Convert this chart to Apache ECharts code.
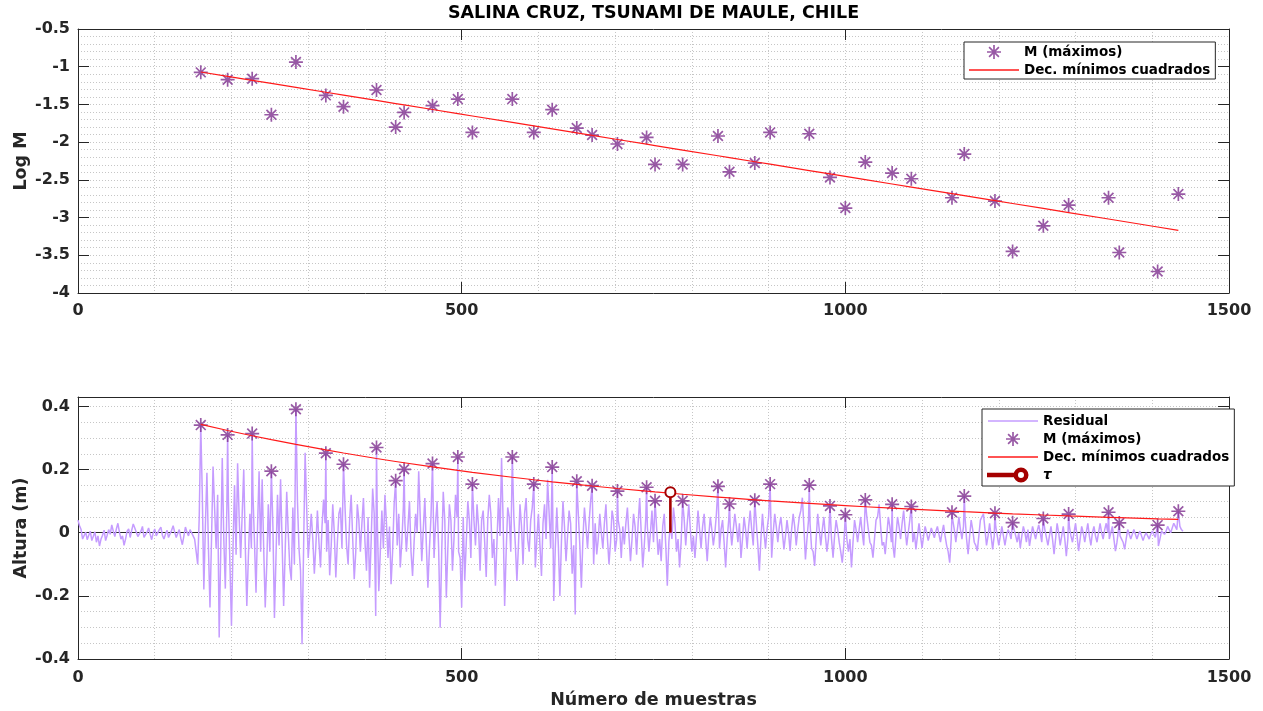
<!DOCTYPE html>
<html>
<head>
<meta charset="utf-8">
<script src="https://cdn.jsdelivr.net/npm/echarts@6/dist/echarts.min.js"></script>
<style>
  html, body { margin: 0; padding: 0; background: #fff; }
  #chart { width: 1263px; height: 711px; }
</style>
</head>
<body>
<div id="chart"></div>
<script>
// Sample index of each detected maximum of the residual
const peakX = [160, 195, 227, 252, 284, 323, 346, 389, 414, 425, 462, 495, 514, 566, 594,
  618, 650, 670, 703, 741, 752, 788, 834, 849, 882, 902, 953, 980, 1000, 1026,
  1061, 1086, 1139, 1155, 1195, 1218, 1258, 1291, 1343, 1357, 1407, 1434];

// Natural log of each maximum
const logM = [-1.075, -1.172, -1.159, -1.637, -0.938, -1.380, -1.530, -1.309, -1.800, -1.606,
  -1.517, -1.429, -1.871, -1.429, -1.871, -1.570, -1.813, -1.906, -2.025, -1.937,
  -2.295, -2.295, -1.919, -2.393, -2.277, -1.871, -1.889, -2.468, -2.874, -2.264,
  -2.410, -2.485, -2.737, -2.158, -2.781, -3.449, -3.109, -2.834, -2.737, -3.463,
  -3.715, -2.689];

// Maxima in metres
const peakM = [0.341, 0.310, 0.314, 0.195, 0.391, 0.252, 0.217, 0.270, 0.165, 0.201,
  0.219, 0.240, 0.154, 0.240, 0.154, 0.208, 0.163, 0.149, 0.132, 0.144,
  0.101, 0.101, 0.147, 0.091, 0.103, 0.154, 0.151, 0.085, 0.057, 0.104,
  0.090, 0.083, 0.065, 0.116, 0.062, 0.032, 0.045, 0.059, 0.065, 0.031,
  0.024, 0.068];

// Least-squares decay: log M = fitA + fitB * n
const fitA = -0.806;
const fitB = -0.001648;

// Decay time marker
const tauX = 772;
const tauM = 0.128;

// Residual sea level (m), one value every residualStep samples from n = 0
const residualStep = 2;
const residual = [
  // n 0 - 154
  0.040, 0.022, 0.010, -0.020, -0.015, 0.002, -0.022, -0.008, 0.005, -0.025,
  -0.020, 0.003, -0.030, -0.010, -0.042, -0.020, -0.008, 0.008, -0.025, -0.008,
  0.010, -0.005, 0.025, 0.005, -0.012, 0.012, 0.030, 0.002, -0.020, -0.010,
  -0.040, -0.020, 0.005, 0.012, -0.015, 0.008, 0.028, 0.015, 0.010, -0.012,
  -0.018, 0.005, 0.020, -0.015, -0.010, 0.002, 0.015, -0.005, -0.022, 0.000,
  0.012, -0.010, -0.005, 0.010, 0.018, -0.008, -0.020, -0.005, 0.008, -0.015,
  -0.012, 0.008, 0.022, 0.002, -0.015, -0.002, 0.010, -0.018, -0.038, -0.010,
  0.018, 0.002, -0.010, 0.010, 0.005, -0.010, -0.020, -0.060,
  // n 156 - 302
  -0.100, 0.050, 0.341, 0.120, -0.180, 0.020, 0.190, -0.050, -0.237, -0.020,
  0.210, 0.080, -0.050, 0.120, -0.332, -0.060, 0.237, -0.020, -0.177, 0.080,
  0.100, -0.100, -0.295, -0.050, 0.150, -0.070, 0.220, 0.050, -0.080, 0.060,
  0.200, -0.040, -0.232, -0.080, 0.060, -0.050, 0.120, -0.030, -0.190, 0.020,
  0.195, -0.060, 0.169, -0.050, -0.237, -0.100, 0.090, -0.060, 0.195, 0.020,
  -0.270, -0.080, 0.120, -0.040, 0.169, -0.030, -0.232, -0.060, 0.130, 0.000,
  -0.110, -0.150, 0.080, -0.100, 0.391, 0.100, -0.050, -0.120, -0.353, -0.050,
  0.253, 0.080, -0.080, -0.010,
  // n 304 - 462
  0.060, -0.020, -0.130, -0.040, 0.070, -0.030, -0.110, 0.020, 0.105, 0.030,
  -0.060, 0.040, -0.135, -0.040, 0.090, 0.000, -0.142, -0.030, 0.060, 0.080,
  -0.050, 0.217, 0.080, -0.040, -0.100, 0.040, 0.120, -0.020, -0.147, -0.060,
  0.090, 0.040, -0.060, 0.030, 0.110, -0.030, -0.120, 0.050, -0.174, -0.030,
  0.140, 0.060, -0.264, 0.050, -0.185, -0.060, 0.070, -0.050, 0.120, 0.030,
  -0.080, 0.020, -0.163, -0.060, 0.090, 0.165, -0.040, 0.060, -0.110, -0.030,
  0.080, 0.030, -0.060, 0.020, 0.100, -0.060, -0.137, -0.030, 0.060, 0.000,
  0.195, 0.050, -0.090, 0.010, 0.110, -0.040, -0.174, -0.050, 0.050, 0.219,
  // n 464 - 622
  -0.080, 0.030, 0.100, -0.050, -0.301, -0.060, 0.130, 0.040, -0.206, -0.050,
  0.090, 0.040, -0.120, -0.020, 0.120, 0.050, -0.060, -0.080, -0.237, 0.050,
  -0.152, -0.030, 0.100, 0.040, -0.080, 0.154, 0.040, -0.040, 0.090, 0.020,
  -0.120, 0.040, 0.070, -0.030, -0.140, 0.040, 0.120, 0.060, -0.080, -0.020,
  -0.168, -0.030, 0.110, -0.010, 0.237, 0.040, -0.232, -0.060, 0.080, 0.050,
  -0.060, 0.240, 0.050, -0.040, -0.153, -0.040, 0.090, 0.020, -0.100, 0.060,
  0.110, -0.020, -0.060, 0.040, 0.080, 0.154, -0.110, -0.020, 0.060, -0.040,
  -0.137, 0.030, 0.090, -0.020, 0.168, 0.060, -0.050, 0.208, -0.216, -0.050,
  // n 624 - 802
  0.080, -0.040, -0.200, -0.030, 0.100, 0.020, -0.090, -0.010, 0.070, 0.030,
  -0.130, -0.040, -0.259, 0.163, 0.060, -0.040, -0.174, -0.020, 0.080, 0.020,
  -0.050, 0.030, 0.100, 0.149, -0.100, 0.030, -0.069, -0.020, 0.060, 0.000,
  -0.050, 0.030, 0.090, -0.020, -0.100, -0.030, 0.070, 0.040, -0.060, -0.020,
  0.040, 0.010, -0.080, 0.020, -0.037, 0.030, 0.080, -0.010, -0.090, -0.020,
  0.060, 0.020, -0.070, 0.030, 0.110, 0.000, -0.110, -0.040, 0.050, 0.020,
  -0.060, 0.000, 0.070, -0.030, 0.101, 0.020, -0.070, -0.020, -0.090, 0.020,
  0.060, -0.040, -0.168, -0.030, 0.030, -0.020, 0.080, 0.030, -0.060, -0.020,
  -0.110, -0.030, 0.101, 0.040, -0.040, 0.030, 0.090, 0.010, -0.060, -0.010,
  // n 804 - 1002
  -0.080, -0.010, 0.070, 0.010, -0.050, 0.020, 0.060, -0.020, -0.090, -0.010,
  0.050, 0.010, -0.040, 0.000, 0.060, 0.147, -0.050, 0.010, 0.040, -0.030,
  -0.110, -0.020, 0.040, 0.020, -0.040, 0.010, 0.060, 0.020, -0.030, 0.030,
  -0.080, -0.020, 0.050, 0.010, -0.050, 0.020, 0.070, 0.010, -0.040, 0.103,
  0.030, -0.040, -0.120, -0.020, 0.060, 0.000, -0.050, 0.010, 0.050, 0.154,
  -0.079, 0.000, 0.060, 0.020, -0.030, 0.020, 0.050, 0.000, -0.053, -0.010,
  0.040, 0.000, -0.058, 0.010, 0.060, 0.020, -0.040, 0.010, 0.050, 0.070,
  0.111, 0.020, -0.085, -0.020, 0.040, 0.030, -0.050, -0.060, -0.105, -0.020,
  0.060, 0.010, -0.040, 0.010, 0.050, -0.010, -0.060, -0.020, 0.085, -0.020,
  -0.079, -0.010, 0.040, 0.010, -0.030, -0.060, -0.095, -0.040, 0.057, -0.020,
  // n 1004 - 1202
  -0.060, -0.020, -0.110, -0.030, 0.040, 0.010, -0.030, 0.010, 0.050, 0.000,
  -0.040, 0.104, 0.050, 0.010, -0.030, -0.040, -0.079, -0.020, 0.040, 0.050,
  0.090, 0.020, -0.040, -0.030, -0.068, -0.010, 0.050, 0.020, -0.030, -0.040,
  -0.079, -0.010, 0.050, 0.020, -0.020, 0.030, 0.070, 0.010, -0.040, 0.000,
  0.040, 0.083, -0.030, 0.000, -0.053, -0.010, 0.030, -0.010, -0.048, -0.010,
  0.020, 0.000, -0.025, -0.005, 0.015, 0.000, -0.016, 0.005, 0.020, -0.005,
  -0.030, 0.000, 0.025, -0.010, -0.040, -0.060, -0.095, -0.020, 0.040, 0.010,
  -0.030, 0.010, 0.050, 0.010, -0.020, 0.020, 0.050, -0.020, -0.068, -0.010,
  0.040, 0.010, -0.030, -0.040, -0.058, -0.010, 0.040, 0.050, 0.060, 0.010,
  -0.040, -0.010, 0.030, -0.010, -0.053, -0.010, 0.020, -0.010, -0.040, -0.010,
  // n 1204 - 1440
  0.020, -0.010, -0.040, -0.010, 0.010, 0.000, -0.020, 0.032, 0.010, -0.010,
  -0.030, 0.000, -0.048, -0.010, 0.020, 0.000, -0.030, 0.010, -0.042, -0.010,
  0.020, 0.000, -0.020, 0.005, 0.025, 0.000, -0.030, 0.045, 0.010, -0.015,
  -0.040, -0.010, 0.020, -0.020, -0.068, -0.020, 0.030, 0.000, -0.040, -0.010,
  0.020, -0.020, -0.074, -0.020, 0.020, -0.010, -0.030, 0.000, 0.030, -0.010,
  -0.058, -0.020, 0.020, 0.000, -0.030, 0.000, 0.030, -0.010, -0.040, 0.000,
  0.020, -0.010, -0.030, 0.000, 0.030, 0.000, -0.020, 0.010, 0.030, 0.000,
  -0.020, 0.000, 0.020, -0.020, -0.058, -0.030, 0.010, -0.010, -0.020, -0.030,
  -0.053, -0.020, 0.010, -0.005, -0.020, -0.005, 0.010, -0.005, -0.020, -0.005,
  0.005, -0.010, -0.025, -0.010, 0.000, -0.010, -0.020, -0.005, 0.005, -0.005,
  -0.015, -0.020, -0.042, -0.020, 0.005, 0.000, -0.005, 0.005, 0.020, 0.010,
  0.000, 0.015, 0.030, 0.020, 0.010, 0.068, 0.020, 0.010, 0.005
];

// Axis tick values
const xTicks = [0, 500, 1000, 1500];
const logTicks = [-4, -3.5, -3, -2.5, -2, -1.5, -1, -0.5];
const altTicks = [-0.4, -0.2, 0, 0.2, 0.4];

const FONT = '"DejaVu Sans", "Liberation Sans", sans-serif';
const AXIS_COLOR = '#262626';
const GRID_DOTS = { color: '#c6c6c6', type: [1, 2], width: 1 };
const plain = v => String(v);

// Residual polyline: regular samples plus the maxima falling between them
const residualPoints = residual.map((v, i) => [i * residualStep, v]);
const sampled = new Set(residualPoints.map(p => p[0]));
peakX.forEach((x, i) => { if (!sampled.has(x)) residualPoints.push([x, peakM[i]]); });
residualPoints.sort((p, q) => p[0] - q[0]);

// Asterisk marker (plus + cross) as a filled path
const asterisk = 'path://M8.8 0L11.2 0L11.2 20L8.8 20Z M0 8.8L20 8.8L20 11.2L0 11.2Z ' +
  'M2.151 3.849L3.849 2.151L17.849 16.151L16.151 17.849Z ' +
  'M16.151 2.151L17.849 3.849L3.849 17.849L2.151 16.151Z';

// Legend icons
const thinLineIcon = 'path://M0 0L50 0L50 1.6L0 1.6Z';
const stemIcon = 'path://M0 0 M50 14 M0 5.7L27 5.7L27 8.3L0 8.3Z ' +
  'M26.5 7A6.5 6.5 0 1 1 39.5 7A6.5 6.5 0 1 1 26.5 7Z ' +
  'M29 7A4 4 0 1 0 37 7A4 4 0 1 0 29 7Z';

// Main axes: labels and inward ticks at the major values
function xMain(gridIndex, margin, name) {
  return {
    type: 'value', gridIndex, min: 0, max: 1500, interval: 500,
    name: name || '', nameLocation: 'middle', nameGap: 32, nameMoveOverlap: false,
    nameTextStyle: { fontFamily: FONT, fontWeight: 'bold', fontSize: 17.5, color: AXIS_COLOR },
    axisLine: { show: true, onZero: false, lineStyle: { color: AXIS_COLOR, width: 1 } },
    axisTick: { show: true, inside: true, length: 11, customValues: xTicks, lineStyle: { color: AXIS_COLOR } },
    axisLabel: { customValues: xTicks, formatter: plain, margin, color: AXIS_COLOR,
      fontFamily: FONT, fontWeight: 'bold', fontSize: 16 },
    splitLine: { show: false }
  };
}
function yMain(gridIndex, min, max, ticks, name) {
  return {
    type: 'value', gridIndex, min, max,
    name, nameLocation: 'middle', nameGap: 48, nameMoveOverlap: false,
    nameTextStyle: { fontFamily: FONT, fontWeight: 'bold', fontSize: 17.5, color: AXIS_COLOR },
    axisLine: { show: true, onZero: false, lineStyle: { color: AXIS_COLOR, width: 1 } },
    axisTick: { show: true, inside: true, length: 11, customValues: ticks, lineStyle: { color: AXIS_COLOR } },
    axisLabel: { customValues: ticks, formatter: plain, margin: 8, color: AXIS_COLOR,
      fontFamily: FONT, fontWeight: 'bold', fontSize: 16 },
    splitLine: { show: false }
  };
}
// Opposite box edges with inward ticks
function xTop(gridIndex) {
  return {
    type: 'value', gridIndex, position: 'top', min: 0, max: 1500, interval: 500,
    axisLine: { show: true, onZero: false, lineStyle: { color: AXIS_COLOR, width: 1 } },
    axisTick: { show: true, inside: true, length: 11, lineStyle: { color: AXIS_COLOR } },
    axisLabel: { show: false }, splitLine: { show: false }
  };
}
function yRight(gridIndex, min, max, ticks) {
  return {
    type: 'value', gridIndex, position: 'right', min, max,
    axisLine: { show: true, onZero: false, lineStyle: { color: AXIS_COLOR, width: 1 } },
    axisTick: { show: true, inside: true, length: 11, customValues: ticks, lineStyle: { color: AXIS_COLOR } },
    axisLabel: { show: false }, splitLine: { show: false }
  };
}
// Dotted grid carried by axes that draw nothing else
function xGridLines(gridIndex) {
  return {
    type: 'value', gridIndex, min: 0, max: 1500, interval: 100,
    axisLine: { show: false }, axisTick: { show: false }, axisLabel: { show: false },
    splitLine: { show: true, lineStyle: GRID_DOTS }
  };
}
function yGridLines(gridIndex, min, max, step) {
  return {
    type: 'value', gridIndex, min, max, interval: step,
    axisLine: { show: false }, axisTick: { show: false }, axisLabel: { show: false },
    splitLine: { show: true, lineStyle: GRID_DOTS }
  };
}

const legendText = {
  fontFamily: FONT, fontWeight: 'bold', fontSize: 13.5, lineHeight: 16, color: '#000',
  rich: { t: { fontFamily: FONT, fontStyle: 'italic', fontWeight: 'bold', fontSize: 13.5, lineHeight: 16, color: '#000' } }
};
const legendBox = {
  orient: 'vertical', itemGap: 2, itemWidth: 50, itemHeight: 14,
  backgroundColor: '#fff', borderColor: AXIS_COLOR, borderWidth: 1, borderRadius: 0,
  selectedMode: false, textStyle: legendText
};

const option = {
  animation: false,
  backgroundColor: '#fff',
  graphic: [{
    type: 'text', x: 653.5, y: 13.5,
    style: {
      text: 'SALINA CRUZ, TSUNAMI DE MAULE, CHILE',
      font: 'bold 17.5px ' + FONT, fill: '#000', align: 'center', verticalAlign: 'middle'
    }
  }],
  grid: [
    { left: 78, right: 34, top: 29, height: 264, outerBoundsMode: 'none' },
    { left: 78, right: 34, top: 397, height: 262, outerBoundsMode: 'none' }
  ],
  xAxis: [
    xMain(0, 10), xTop(0), xGridLines(0),
    xMain(1, 11, 'Número de muestras'), xTop(1), xGridLines(1)
  ],
  yAxis: [
    yMain(0, -4, -0.5, logTicks, 'Log M'), yRight(0, -4, -0.5, logTicks), yGridLines(0, -4, -0.5, 0.1),
    yMain(1, -0.4, 0.43, altTicks, 'Altura (m)'), yRight(1, -0.4, 0.43, altTicks), yGridLines(1, -0.4, 0.43, 0.05)
  ],
  legend: [
    Object.assign({}, legendBox, {
      data: ['M (máximos)', { name: 'Dec. mínimos cuadrados', icon: thinLineIcon }],
      left: 964, top: 42, padding: [2, 5, 1, 5]
    }),
    Object.assign({}, legendBox, {
      data: [
        { name: 'Residual', icon: thinLineIcon },
        'M (máximos)',
        { name: 'Dec. mínimos cuadrados', icon: thinLineIcon },
        { name: 'τ', icon: stemIcon }
      ],
      left: 982, top: 409, padding: [4, 5, 3, 5],
      formatter: n => (n === 'τ' ? '{t|τ}' : n)
    })
  ],
  series: [
    {
      name: 'M (máximos)', type: 'scatter', xAxisIndex: 0, yAxisIndex: 0,
      data: peakX.map((x, i) => [x, logM[i]]),
      symbol: asterisk, symbolSize: 14, itemStyle: { color: '#7e2f8e' }, z: 3
    },
    {
      name: 'Dec. mínimos cuadrados', type: 'line', xAxisIndex: 0, yAxisIndex: 0,
      data: peakX.map(x => [x, fitA + fitB * x]),
      symbol: 'none', lineStyle: { color: '#ff1a1a', width: 1.2 }, itemStyle: { color: '#ff1a1a' }, z: 4
    },
    {
      name: 'Residual', type: 'line', xAxisIndex: 3, yAxisIndex: 3,
      data: residualPoints, symbol: 'none',
      lineStyle: { color: '#c59cff', width: 1.5 }, itemStyle: { color: '#c59cff' }, z: 2,
      markLine: {
        silent: true, symbol: 'none', z: 1, label: { show: false },
        lineStyle: { color: AXIS_COLOR, width: 1, type: 'solid' },
        data: [{ yAxis: 0 }]
      }
    },
    {
      name: 'M (máximos)', type: 'scatter', xAxisIndex: 3, yAxisIndex: 3,
      data: peakX.map((x, i) => [x, peakM[i]]),
      symbol: asterisk, symbolSize: 14, itemStyle: { color: '#7e2f8e' }, z: 3
    },
    {
      name: 'Dec. mínimos cuadrados', type: 'line', xAxisIndex: 3, yAxisIndex: 3,
      data: peakX.map(x => [x, Math.exp(fitA + fitB * x)]),
      symbol: 'none', lineStyle: { color: '#ff1a1a', width: 1.2 }, itemStyle: { color: '#ff1a1a' }, z: 4
    },
    {
      name: 'τ', type: 'line', xAxisIndex: 3, yAxisIndex: 3,
      data: [{ value: [tauX, 0], symbol: 'none' }, { value: [tauX, tauM] }],
      symbol: 'emptyCircle', symbolSize: 10, showSymbol: true,
      lineStyle: { color: '#a50000', width: 2.6 },
      itemStyle: { color: '#a50000', borderColor: '#a50000', borderWidth: 2.5 }, z: 5
    }
  ]
};

const chart = echarts.init(document.getElementById('chart'), null, { renderer: 'canvas' });
chart.setOption(option);
</script>
</body>
</html>
